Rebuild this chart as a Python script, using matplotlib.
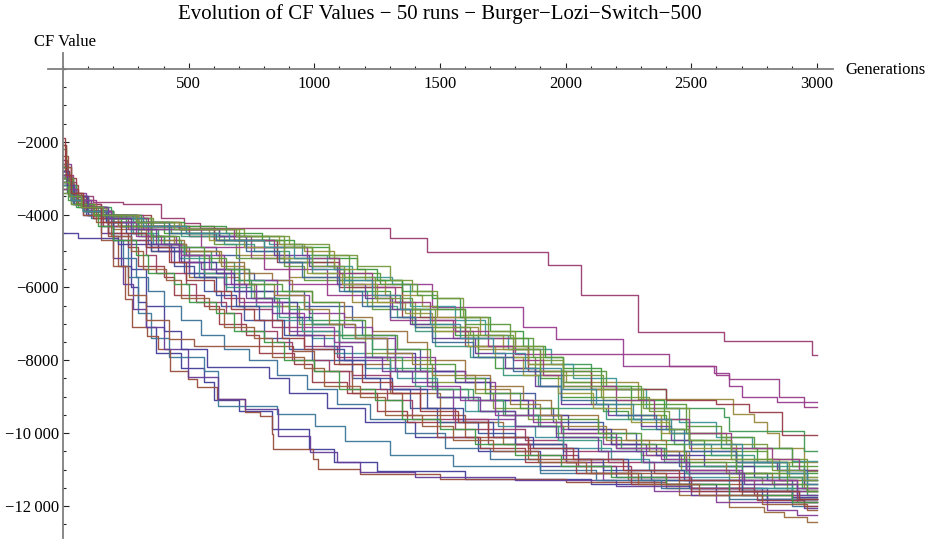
#!/usr/bin/env python3
"""Evolution of CF values, 50 runs, Burger-Lozi-Switch-500."""

import colorsys

import matplotlib as mpl
import matplotlib.pyplot as plt
from matplotlib.ticker import FixedLocator, FuncFormatter, MultipleLocator

TITLE = "Evolution of CF Values \u2212 50 runs \u2212 Burger\u2212Lozi\u2212Switch\u2212500"
LAST_GEN = 3000
X_MAJOR = [500, 1000, 1500, 2000, 2500, 3000]
Y_MAJOR = [-2000, -4000, -6000, -8000, -10000, -12000]

# Each run: (generation, CF value) where the value changes (step, held until next point).
RUN_00 = [(0, -2900), (30, -3600), (90, -4000), (180, -4500), (230, -5400), (270, -6000), (300, -6400),
          (330, -7100), (370, -7800), (470, -8200), (560, -8600), (600, -9100), (700, -9400), (830, -9900),
          (980, -10450), (1080, -10800), (1250, -11050), (1600, -11250), (2100, -11400), (2600, -11600),
          (2900, -11750)]
RUN_01 = [(0, -2500), (15, -3100), (50, -3500), (120, -3644), (240, -3700), (390, -4082), (480, -4220),
          (545, -4356), (1300, -4650), (1450, -5014), (1930, -5397), (2060, -6219), (2290, -7233),
          (2630, -7480), (2980, -7863)]
RUN_02 = [(0, -3000), (40, -3700), (120, -4000), (300, -4300), (500, -4600), (700, -5100), (900, -5700),
          (1150, -6400), (1400, -7100), (1650, -7700), (1900, -8300), (2000, -8603), (2288, -9069),
          (2666, -9480), (2750, -9700), (2800, -10000), (2850, -10400), (2950, -10800)]
RUN_03 = [(0, -3200), (50, -3800), (150, -4100), (350, -4400), (600, -4700), (850, -5200), (1100, -5800),
          (1350, -6600), (1600, -7400), (1850, -8100), (2100, -8800), (2400, -9300), (2630, -9562),
          (2650, -9945), (2950, -10493)]
RUN_04 = [(0, -2800), (15, -3300), (40, -3600), (90, -3900), (170, -4200), (300, -4400), (420, -4900),
          (610, -5100), (700, -5600), (760, -5800), (900, -6100), (960, -6500), (1150, -6900), (1190, -7300),
          (1320, -7700), (1420, -8300), (1600, -8500), (1700, -8900), (1880, -9300), (1950, -9700),
          (2150, -10000), (2280, -10500), (2450, -10900), (2700, -11100), (2800, -11300), (2900, -11500)]
RUN_05 = [(0, -3100), (40, -3700), (150, -4000), (300, -4300), (500, -4600), (750, -5200), (900, -5918),
          (1468, -6548), (1830, -7096), (1960, -7425), (2230, -8164), (2590, -8350), (2650, -8712),
          (2700, -9014), (2840, -9150)]
RUN_06 = [(0, -2700), (30, -3400), (80, -3900), (200, -4400), (350, -5000), (500, -5700), (700, -6500),
          (900, -7300), (1100, -8100), (1300, -8900), (1500, -9700), (1750, -10300), (2000, -10800),
          (2250, -11300), (2450, -11700), (2650, -12027), (2790, -12164), (2870, -12301), (2960, -12438)]
RUN_07 = [(0, -3300), (20, -3600), (60, -3800), (140, -4000), (250, -4200), (400, -4500), (620, -4700),
          (800, -4900), (880, -5300), (1080, -5500), (1140, -6100), (1300, -6400), (1390, -7000),
          (1560, -7300), (1650, -7900), (1720, -8200), (1900, -8500), (1980, -9000), (2150, -9400),
          (2250, -9600), (2380, -10200), (2550, -10600), (2700, -10900), (2850, -11300)]
RUN_08 = [(0, -3000), (40, -3700), (110, -4100), (200, -4700), (260, -5700), (300, -6700), (350, -7400),
          (420, -7900), (560, -8300), (617, -9260), (851, -9480), (1003, -9808), (1122, -10219),
          (1300, -10600), (1550, -10900), (1900, -11100), (2300, -11300), (2700, -11500), (2900, -11600)]
RUN_09 = [(0, -2600), (30, -3400), (90, -3900), (200, -4300), (350, -4900), (500, -5600), (700, -6400),
          (900, -7200), (1100, -8000), (1300, -8800), (1550, -9600), (1800, -10300), (2000, -10800),
          (2150, -11300), (2350, -11600), (2600, -11900), (2800, -12100), (2920, -12247)]
RUN_10 = [(0, -2400), (20, -3200), (60, -3700), (120, -4100), (180, -4600), (220, -5400), (247, -6329),
          (275, -7096), (334, -7342), (378, -7699), (426, -8301), (497, -8521), (533, -8740), (613, -9069),
          (724, -9425), (784, -9534), (832, -10027), (836, -10438), (995, -10712), (1015, -10986),
          (1182, -11123), (1500, -11250), (2000, -11350), (2400, -11500), (2700, -11700), (2900, -11900)]
RUN_11 = [(0, -2200), (10, -3000), (35, -3500), (80, -3800), (160, -4100), (290, -4300), (430, -4500),
          (600, -4800), (690, -5200), (880, -5400), (960, -5800), (1150, -6000), (1230, -6600),
          (1420, -6800), (1480, -7200), (1630, -7600), (1790, -7900), (1880, -8400), (1990, -8600),
          (2100, -9200), (2300, -9500), (2400, -9900), (2490, -10200), (2660, -10500), (2800, -10800),
          (2950, -11000)]
RUN_12 = [(0, -3200), (25, -3500), (70, -3800), (150, -4000), (280, -4200), (420, -4400), (620, -4600),
          (820, -4800), (950, -5100), (1050, -5400), (1150, -5700), (1310, -5900), (1380, -6500),
          (1560, -6900), (1680, -7300), (1770, -7700), (1940, -8100), (2030, -8500), (2200, -8800),
          (2320, -9300), (2450, -9700), (2600, -10100), (2740, -10400), (2900, -10767)]
RUN_13 = [(0, -2800), (25, -3500), (80, -4000), (150, -4500), (200, -5200), (240, -5900), (280, -6600),
          (330, -7100), (400, -7700), (497, -8465), (617, -9069), (724, -9342), (855, -10082), (983, -10520),
          (1090, -10794), (1182, -11068), (1400, -11200), (1800, -11300), (2200, -11450), (2500, -11700),
          (2800, -11900), (2950, -12050)]
RUN_14 = [(0, -3000), (50, -3700), (150, -4000), (350, -4300), (600, -4700), (850, -5300), (1100, -6000),
          (1350, -6800), (1600, -7600), (1850, -8300), (2100, -8800), (2400, -9100), (2600, -9205),
          (2730, -9425), (2860, -10055)]
RUN_15 = [(0, -2900), (20, -3300), (50, -3600), (110, -3900), (200, -4200), (310, -4600), (400, -4800),
          (480, -5100), (560, -5600), (700, -5900), (760, -6300), (850, -6500), (940, -7000), (1100, -7300),
          (1200, -7800), (1290, -8000), (1450, -8600), (1640, -8900), (1710, -9300), (1850, -9600),
          (1960, -10000), (2180, -10300), (2300, -10600), (2460, -11000), (2650, -11200), (2780, -11400),
          (2880, -11600)]
RUN_16 = [(0, -3400), (30, -3700), (80, -3900), (180, -4100), (330, -4300), (470, -4600), (640, -4800),
          (760, -5000), (900, -5300), (990, -5600), (1120, -6100), (1210, -6500), (1330, -6800),
          (1400, -7200), (1480, -7600), (1620, -7900), (1750, -8400), (1890, -8700), (1970, -9300),
          (2160, -9600), (2300, -9900), (2430, -10300), (2580, -10600), (2750, -10900), (2950, -11200)]
RUN_17 = [(0, -2900), (30, -3600), (100, -4000), (200, -4600), (270, -5500), (330, -6500), (400, -7200),
          (470, -7700), (573, -8191), (820, -8500), (900, -8900), (1050, -9300), (1200, -9700),
          (1400, -10100), (1650, -10500), (1900, -10900), (2200, -11200), (2500, -11500), (2800, -11800)]
RUN_18 = [(0, -2700), (15, -3100), (40, -3500), (90, -3800), (170, -4100), (260, -4400), (340, -4800),
          (430, -5300), (560, -5700), (640, -6300), (720, -6600), (830, -7100), (960, -7600), (1090, -7900),
          (1150, -8400), (1300, -8700), (1420, -9300), (1560, -9600), (1690, -9900), (1840, -10200),
          (1990, -10500), (2170, -10800), (2350, -11100), (2490, -11300), (2750, -11600), (2920, -11800)]
RUN_19 = [(0, -3200), (25, -3500), (70, -3800), (160, -4000), (300, -4200), (470, -4400), (700, -4600),
          (860, -4800), (960, -5000), (1080, -5500), (1200, -5800), (1280, -6200), (1430, -6500),
          (1490, -6800), (1660, -7300), (1750, -7700), (1850, -8100), (1990, -8800), (2150, -9100),
          (2260, -9500), (2380, -10000), (2490, -10400), (2680, -10700), (2850, -11100), (2960, -11400)]
RUN_20 = [(0, -2800), (20, -3200), (50, -3500), (100, -3800), (190, -4100), (300, -4400), (380, -4700),
          (470, -5000), (590, -5300), (680, -5800), (750, -6100), (900, -6400), (980, -6900), (1100, -7300),
          (1230, -7700), (1320, -8200), (1480, -8800), (1630, -9100), (1760, -9500), (1890, -9800),
          (1990, -10100), (2200, -10400), (2390, -10800), (2480, -11100), (2700, -11300), (2830, -11500),
          (2960, -11700)]
RUN_21 = [(0, -3000), (15, -3400), (45, -3700), (100, -4000), (180, -4300), (270, -4700), (350, -5000),
          (480, -5600), (560, -6100), (630, -6500), (720, -6900), (800, -7400), (900, -7700), (990, -8000),
          (1150, -8500), (1260, -8800), (1380, -9300), (1490, -9700), (1650, -10000), (1800, -10300),
          (1990, -10700), (2150, -11000), (2340, -11300), (2490, -11500), (2780, -11800), (2950, -11900)]
RUN_22 = [(0, -2900), (40, -3600), (130, -4000), (320, -4400), (550, -4900), (800, -5500), (1050, -6200),
          (1300, -6900), (1550, -7400), (1800, -7836), (2410, -8164), (2600, -8400), (2650, -8520),
          (2850, -9014), (2950, -9288)]
RUN_23 = [(0, -3100), (25, -3400), (60, -3700), (130, -4000), (230, -4300), (350, -4700), (480, -5000),
          (620, -5300), (720, -5600), (830, -5800), (910, -6100), (990, -6400), (1120, -6800), (1230, -7200),
          (1370, -7500), (1450, -8000), (1600, -8400), (1700, -8700), (1830, -9100), (1940, -9500),
          (2130, -9900), (2240, -10200), (2400, -10500), (2490, -10700), (2680, -11100), (2850, -11300),
          (2950, -11500)]
RUN_24 = [(0, -3300), (30, -3600), (80, -3800), (170, -4000), (310, -4200), (480, -4300), (650, -4500),
          (790, -4700), (920, -4900), (1060, -5200), (1170, -5500), (1250, -5800), (1350, -6100),
          (1470, -6300), (1580, -6800), (1700, -7200), (1830, -7600), (1920, -7900), (1990, -8200),
          (2140, -8700), (2260, -9100), (2390, -9600), (2480, -10000), (2620, -10400), (2760, -10800),
          (2880, -11100)]
RUN_25 = [(0, -2600), (15, -3100), (35, -3500), (80, -3900), (150, -4300), (200, -4700), (240, -5200),
          (290, -5700), (340, -6100), (400, -6500), (470, -6900), (550, -7300), (640, -7700), (740, -8000),
          (850, -8400), (970, -8800), (1090, -9200), (1220, -9600), (1360, -10000), (1520, -10400),
          (1700, -10700), (1900, -11000), (2120, -11300), (2380, -11500), (2650, -11800), (2900, -12000)]
RUN_26 = [(0, -3000), (20, -3400), (55, -3700), (120, -4000), (220, -4300), (340, -4600), (450, -4800),
          (490, -5100), (640, -5500), (740, -5800), (850, -6200), (980, -6700), (1120, -7100), (1230, -7400),
          (1320, -7900), (1480, -8300), (1600, -8600), (1720, -9100), (1870, -9500), (1980, -9900),
          (2150, -10300), (2320, -10600), (2480, -11000), (2690, -11300), (2920, -11600)]
RUN_27 = [(0, -2700), (30, -3500), (80, -4000), (150, -4700), (200, -5400), (260, -6200), (330, -6900),
          (420, -7425), (520, -7616), (915, -7753), (1000, -8300), (1150, -8900), (1350, -9500),
          (1600, -10100), (1850, -10700), (2100, -11100), (2400, -11400), (2700, -11600), (2900, -11800)]
RUN_28 = [(0, -2100), (10, -3000), (40, -3600), (100, -3900), (200, -4100), (350, -4300), (490, -4500),
          (700, -4700), (880, -4900), (990, -5100), (1140, -5600), (1260, -5900), (1410, -6200),
          (1490, -6600), (1600, -7000), (1780, -7400), (1870, -7900), (1990, -8300), (2160, -8700),
          (2300, -9200), (2480, -9800), (2620, -10100), (2750, -10400), (2900, -10900)]
RUN_29 = [(0, -2900), (15, -3300), (45, -3600), (100, -3900), (180, -4200), (270, -4500), (360, -4800),
          (480, -5100), (540, -5700), (650, -6100), (770, -6500), (850, -6900), (990, -7400), (1080, -7800),
          (1200, -8200), (1330, -8500), (1490, -9000), (1600, -9400), (1730, -9800), (1880, -10100),
          (1990, -10400), (2180, -10700), (2330, -11000), (2490, -11200), (2650, -11500), (2900, -11800)]
RUN_30 = [(0, -3100), (30, -3500), (80, -3800), (170, -4000), (300, -4200), (460, -4400), (620, -4600),
          (730, -4900), (840, -5100), (980, -5400), (1090, -5900), (1200, -6300), (1310, -6600),
          (1380, -7000), (1470, -7400), (1640, -7800), (1760, -8200), (1880, -8700), (1980, -9200),
          (2170, -9500), (2300, -9800), (2420, -10200), (2500, -10500), (2680, -10800), (2840, -11000),
          (2950, -11300)]
RUN_31 = [(0, -1900), (8, -2800), (25, -3300), (60, -3700), (120, -4100), (180, -4500), (260, -4900),
          (300, -5400), (400, -5700), (440, -6200), (560, -6500), (620, -7000), (730, -7300), (780, -7800),
          (920, -8100), (990, -8600), (1130, -8900), (1250, -9400), (1370, -9700), (1490, -10100),
          (1660, -10400), (1840, -10800), (2040, -11100), (2260, -11400), (2500, -11600), (2760, -11850),
          (2950, -12000)]
RUN_32 = [(0, -3400), (30, -3700), (90, -3900), (200, -4100), (360, -4300), (480, -4400), (720, -4600),
          (900, -4800), (1060, -5100), (1170, -5400), (1300, -5800), (1390, -6100), (1490, -6300),
          (1590, -6800), (1690, -7200), (1800, -7600), (1910, -8000), (1990, -8400), (2150, -8800),
          (2310, -9300), (2490, -10000), (2640, -10300), (2800, -10700), (2960, -11050)]
RUN_33 = [(0, -2800), (15, -3200), (45, -3500), (100, -3800), (180, -4100), (280, -4500), (380, -4800),
          (460, -5200), (560, -5600), (650, -6000), (750, -6300), (860, -6800), (950, -7200), (1100, -7500),
          (1200, -7900), (1300, -8300), (1400, -8700), (1490, -9000), (1650, -9400), (1800, -9800),
          (1970, -10200), (2140, -10500), (2300, -10800), (2480, -11100), (2700, -11400), (2900, -11700)]
RUN_34 = [(0, -4493), (60, -4650), (220, -4800), (380, -5000), (470, -5300), (610, -5600), (680, -6100),
          (840, -6400), (930, -6800), (990, -7000), (1160, -7400), (1290, -7800), (1400, -8300),
          (1560, -8600), (1700, -9100), (1850, -9500), (2010, -9900), (2180, -10300), (2360, -10600),
          (2550, -10900), (2750, -11200), (2950, -11400)]
RUN_35 = [(0, -2700), (15, -3100), (40, -3500), (90, -3900), (160, -4300), (230, -4700), (330, -5100),
          (370, -5600), (490, -5900), (530, -6400), (650, -6700), (710, -7200), (850, -7500), (910, -8000),
          (1060, -8300), (1140, -8800), (1290, -9100), (1390, -9600), (1560, -9900), (1690, -10300),
          (1860, -10600), (2050, -10900), (2260, -11200), (2500, -11500), (2750, -11700), (2920, -11900)]
RUN_36 = [(0, -3200), (25, -3500), (75, -3800), (170, -4000), (300, -4200), (460, -4400), (580, -4700),
          (720, -4900), (880, -5200), (970, -5600), (1110, -5900), (1250, -6400), (1360, -6700),
          (1470, -7200), (1610, -7600), (1720, -7900), (1830, -8400), (1970, -8900), (2110, -9300),
          (2260, -9700), (2410, -10000), (2490, -10300), (2680, -10800), (2890, -11200)]
RUN_37 = [(0, -2900), (20, -3300), (50, -3600), (110, -3900), (200, -4200), (300, -4600), (400, -4800),
          (480, -5100), (590, -5500), (700, -5800), (800, -6300), (900, -6600), (990, -7000), (1110, -7400),
          (1230, -7900), (1350, -8300), (1470, -8800), (1610, -9100), (1750, -9500), (1900, -9800),
          (1990, -10100), (2220, -10400), (2400, -10700), (2490, -10900), (2700, -11200), (2940, -11500)]
RUN_38 = [(0, -2800), (15, -3200), (40, -3500), (95, -3900), (170, -4200), (250, -4500), (330, -4900),
          (440, -5400), (520, -5700), (610, -6200), (690, -6500), (780, -6900), (880, -7300), (990, -7700),
          (1120, -8000), (1200, -8500), (1310, -8800), (1450, -9300), (1590, -9700), (1710, -10100),
          (1870, -10400), (2050, -10700), (2250, -11000), (2470, -11300), (2700, -11600), (2930, -11800)]
RUN_39 = [(0, -3300), (30, -3600), (85, -3900), (190, -4100), (340, -4300), (460, -4400), (680, -4700),
          (840, -4900), (970, -5200), (1100, -5600), (1230, -6000), (1320, -6400), (1460, -6900),
          (1560, -7200), (1690, -7600), (1790, -8000), (1910, -8400), (1990, -8700), (2200, -9100),
          (2350, -9600), (2490, -10000), (2660, -10400), (2820, -10700), (2930, -11000)]
RUN_40 = [(0, -3000), (20, -3400), (55, -3700), (120, -4000), (220, -4300), (330, -4600), (440, -4800),
          (490, -5000), (630, -5400), (720, -5900), (840, -6200), (960, -6600), (1060, -7000), (1160, -7400),
          (1290, -7800), (1390, -8100), (1470, -8400), (1640, -8800), (1780, -9200), (1900, -9500),
          (1980, -9800), (2160, -10200), (2330, -10500), (2480, -10800), (2640, -11100), (2820, -11400),
          (2960, -11600)]
RUN_41 = [(0, -2700), (12, -3100), (35, -3500), (80, -3900), (140, -4300), (200, -4700), (290, -5100),
          (340, -5600), (440, -5900), (500, -6400), (610, -6700), (680, -7200), (800, -7500), (880, -8000),
          (1000, -8300), (1100, -8800), (1240, -9100), (1350, -9600), (1500, -9900), (1640, -10300),
          (1800, -10600), (1980, -10900), (2180, -11200), (2400, -11400), (2650, -11700), (2900, -11900)]
RUN_42 = [(0, -3100), (25, -3500), (70, -3800), (160, -4000), (290, -4200), (420, -4500), (610, -4700),
          (730, -5000), (860, -5300), (950, -5700), (1100, -6100), (1190, -6500), (1300, -6800),
          (1400, -7100), (1470, -7500), (1630, -7900), (1790, -8300), (1900, -8700), (1980, -9100),
          (2200, -9500), (2360, -9900), (2470, -10500), (2680, -10800), (2850, -11000), (2960, -11300)]
RUN_43 = [(0, -2900), (20, -3300), (50, -3600), (110, -3900), (190, -4200), (290, -4600), (390, -4800),
          (470, -5100), (580, -5500), (670, -5900), (770, -6400), (870, -6700), (960, -7100), (1080, -7500),
          (1200, -7900), (1320, -8300), (1450, -8700), (1580, -9100), (1720, -9500), (1870, -9700),
          (1980, -10000), (2200, -10400), (2380, -10700), (2480, -11000), (2700, -11300), (2920, -11500)]
RUN_44 = [(0, -2600), (12, -3000), (30, -3400), (70, -3800), (130, -4200), (190, -4600), (270, -5000),
          (320, -5500), (410, -5800), (470, -6300), (580, -6600), (640, -7100), (760, -7400), (830, -7900),
          (960, -8200), (1040, -8700), (1180, -9000), (1280, -9500), (1430, -9800), (1550, -10200),
          (1710, -10500), (1890, -10800), (2080, -11100), (2290, -11400), (2530, -11700), (2780, -11950),
          (2960, -12100)]
RUN_45 = [(0, -3000), (20, -3400), (55, -3700), (125, -4000), (230, -4300), (350, -4600), (460, -4900),
          (560, -5200), (650, -5500), (740, -5900), (870, -6100), (990, -6400), (1100, -6900), (1200, -7300),
          (1330, -7700), (1460, -8100), (1560, -8500), (1680, -8900), (1820, -9300), (1970, -9600),
          (2130, -10000), (2300, -10300), (2470, -10800), (2680, -11100), (2880, -11400), (2960, -11600)]
RUN_46 = [(0, -3200), (30, -3600), (80, -3900), (180, -4100), (320, -4300), (490, -4500), (660, -4700),
          (800, -4900), (920, -5200), (990, -5500), (1120, -5800), (1230, -6200), (1340, -6600),
          (1460, -7000), (1580, -7400), (1710, -7800), (1840, -8200), (1980, -8800), (2120, -9200),
          (2270, -9600), (2420, -10000), (2490, -10300), (2700, -10800), (2880, -11100), (2960, -11400)]
RUN_47 = [(0, -2800), (15, -3200), (45, -3500), (100, -3800), (180, -4100), (270, -4400), (370, -4800),
          (460, -5300), (550, -5500), (640, -5900), (730, -6300), (830, -6700), (930, -7300), (1040, -7600),
          (1150, -7900), (1270, -8300), (1390, -8600), (1490, -9000), (1660, -9400), (1800, -9800),
          (1960, -10100), (2130, -10500), (2310, -10800), (2490, -11100), (2710, -11400), (2920, -11700)]
RUN_48 = [(0, -2100), (10, -2900), (30, -3400), (80, -3800), (150, -4200), (230, -4500), (330, -4900),
          (420, -5300), (490, -5800), (600, -6100), (670, -6600), (760, -6900), (870, -7400), (960, -7700),
          (1080, -8100), (1190, -8600), (1310, -8900), (1420, -9400), (1570, -9700), (1690, -10100),
          (1850, -10400), (2030, -10700), (2230, -11000), (2450, -11300), (2690, -11600), (2930, -11800)]
RUN_49 = [(0, -3100), (25, -3500), (70, -3800), (160, -4000), (290, -4200), (440, -4400), (690, -4600),
          (880, -4900), (990, -5400), (1120, -5700), (1240, -6300), (1390, -6600), (1480, -7100),
          (1620, -7300), (1790, -7700), (1900, -8300), (1990, -8700), (2140, -9000), (2330, -9400),
          (2410, -9900), (2490, -10200), (2660, -10700), (2820, -11000), (2950, -11300)]

RUNS = [RUN_00, RUN_01, RUN_02, RUN_03, RUN_04, RUN_05, RUN_06, RUN_07, RUN_08, RUN_09,
        RUN_10, RUN_11, RUN_12, RUN_13, RUN_14, RUN_15, RUN_16, RUN_17, RUN_18, RUN_19,
        RUN_20, RUN_21, RUN_22, RUN_23, RUN_24, RUN_25, RUN_26, RUN_27, RUN_28, RUN_29,
        RUN_30, RUN_31, RUN_32, RUN_33, RUN_34, RUN_35, RUN_36, RUN_37, RUN_38, RUN_39,
        RUN_40, RUN_41, RUN_42, RUN_43, RUN_44, RUN_45, RUN_46, RUN_47, RUN_48, RUN_49]


def run_color(k):
    # Mathematica-style default plot colours: hues stepped around the wheel.
    hue = (0.67 + k * 0.236068) % 1.0
    return colorsys.hsv_to_rgb(hue, 0.6, 0.6)


def y_label(v, _pos):
    s = f"{abs(int(v))}"
    if len(s) > 4:
        s = s[:-3] + "\u2009" + s[-3:]
    return "\u2212" + s if v < 0 else s


def main():
    mpl.rcParams.update({
        "font.family": ["Liberation Serif", "DejaVu Serif"],
        "axes.unicode_minus": True,
    })

    fig = plt.figure(figsize=(9.36, 5.42), dpi=100)
    ax = fig.add_axes([0.0512, 0.0074, 0.839, 0.895])

    for k, run in enumerate(RUNS):
        gens = [g for g, _ in run] + [LAST_GEN]
        vals = [v for _, v in run] + [run[-1][1]]
        ax.step(gens, vals, where="post", color=run_color(k), lw=1.0, alpha=0.95)

    ax.set_xlim(-60, 3065)
    ax.set_ylim(-12880, 440)

    for side in ["top", "right"]:
        ax.spines[side].set_visible(False)
    ax.spines["left"].set_position(("data", 0))
    ax.spines["bottom"].set_position(("data", 0))
    for side in ["left", "bottom"]:
        ax.spines[side].set_color("#7f7f7f")
        ax.spines[side].set_linewidth(1.3)

    ax.xaxis.set_major_locator(FixedLocator(X_MAJOR))
    ax.xaxis.set_minor_locator(MultipleLocator(100))
    ax.yaxis.set_major_locator(FixedLocator(Y_MAJOR))
    ax.yaxis.set_minor_locator(MultipleLocator(500))
    ax.yaxis.set_major_formatter(FuncFormatter(y_label))

    ax.tick_params(axis="both", which="both", direction="in", color="#222222", width=0.8)
    ax.tick_params(axis="both", which="major", length=4.5, labelsize=12)
    ax.tick_params(axis="both", which="minor", length=2.5)
    ax.tick_params(axis="x", which="major", pad=5)
    ax.tick_params(axis="y", which="major", pad=3)

    fig.text(440 / 936, 1 - 14 / 542, TITLE, ha="center", va="center", fontsize=15)
    fig.text(34 / 936, 1 - 42 / 542, "CF Value", ha="left", va="center", fontsize=12)
    fig.text(845 / 936, 1 - 70 / 542, "Generations", ha="left", va="center", fontsize=12)

    fig.savefig("out.png", dpi=100)


if __name__ == "__main__":
    main()
